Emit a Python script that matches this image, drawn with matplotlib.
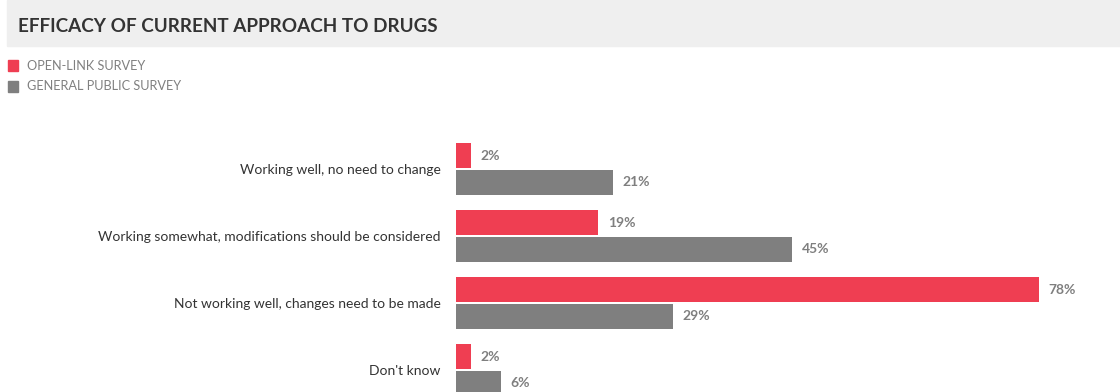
import matplotlib
matplotlib.use("Agg")
import matplotlib.pyplot as plt
from matplotlib.patches import Rectangle

categories = ["Working well, no need to change",
              "Working somewhat, modifications should be considered",
              "Not working well, changes need to be made",
              "Don't know"]
open_link = [2, 19, 78, 2]
general_public = [21, 45, 29, 6]
series_names = ["OPEN-LINK SURVEY", "GENERAL PUBLIC SURVEY"]
title = "EFFICACY OF CURRENT APPROACH TO DRUGS"

RED = "#ef3e52"
GRAY = "#7f7f7f"
W, H = 1120, 392
plt.rcParams['font.family'] = ['Lato', 'DejaVu Sans']

fig = plt.figure(figsize=(W / 100, H / 100), dpi=100)

# title band
fig.patches.append(Rectangle((7 / W, 1 - 46 / H), 1 - 7 / W, 46 / H,
                             transform=fig.transFigure, color="#efefef", zorder=0))
fig.text(18 / W, 1 - 26 / H, title, fontsize=13.6, fontweight="bold",
         color="#333333", va="center", ha="left")

# legend
for k, (name, col) in enumerate(zip(series_names, [RED, GRAY])):
    yc = 65.5 + 21 * k
    fig.patches.append(Rectangle((8 / W, 1 - (yc + 5.5) / H), 10 / W, 11 / H,
                                 transform=fig.transFigure, color=col))
    fig.text(27 / W, 1 - yc / H, name, fontsize=9.2, color="#808080",
             va="center", ha="left")

left_px, top_px = 456, 130
ax = fig.add_axes([left_px / W, 0, (W - left_px) / W, (H - top_px) / H])
ppu = 7.47
ax.set_xlim(0, (W - left_px) / ppu)
ax.set_ylim(3 + 22 / 67, -39 / 67)

ys = list(range(len(categories)))
off, h = 0.2, 0.375
ax.barh([y - off for y in ys], open_link, height=h, color=RED)
ax.barh([y + off for y in ys], general_public, height=h, color=GRAY)

for y, v in zip(ys, open_link):
    ax.text(v + 10 / ppu, y - off, f"{v}%", va="center", ha="left",
            fontsize=10, fontweight="bold", color=GRAY)
for y, v in zip(ys, general_public):
    ax.text(v + 10 / ppu, y + off, f"{v}%", va="center", ha="left",
            fontsize=10, fontweight="bold", color=GRAY)

ax.set_yticks(ys)
ax.set_yticklabels(categories, fontsize=10, color="#333333")
ax.tick_params(axis="y", length=0, pad=11)
ax.set_xticks([])
for s in ax.spines.values():
    s.set_visible(False)
ax.patch.set_alpha(0)

fig.savefig("out.png", dpi=100)
